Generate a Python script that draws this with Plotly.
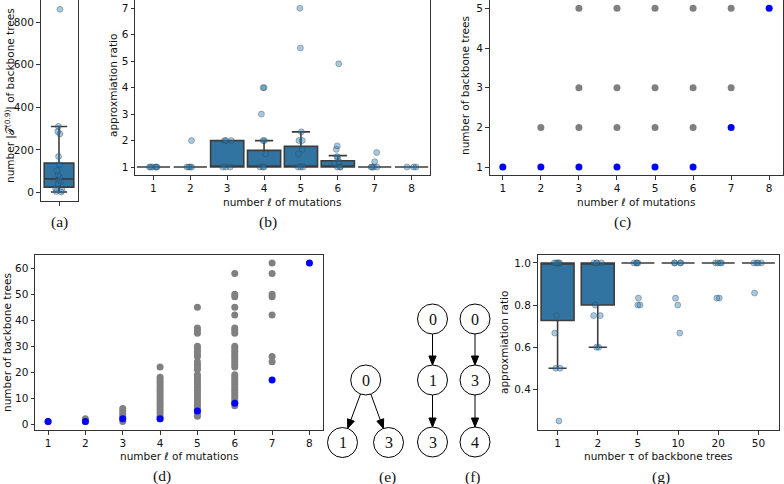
import plotly.graph_objects as go

W, H = 784, 484

# ---------------- data ----------------
# (a) number of backbone trees |T^(0.9)|
a_box = dict(q1=25, med=64, q3=138, lo=2, hi=310)
a_points = [860, 310, 286, 275, 169, 130, 103, 83, 72, 60, 52, 41, 20, 10, 5, 2]

# (b) approximation ratio vs number of mutations
mutations = [1, 2, 3, 4, 5, 6, 7, 8]
b_q1 = [1, 1, 1, 1, 1, 1, 1, 1]
b_med = [1, 1, 1, 1, 1, 1, 1, 1]
b_q3 = [1, 1, 2, 1.63, 1.78, 1.24, 1, 1]
b_lo = [1, 1, 1, 1, 1, 1, 1, 1]
b_hi = [1, 1, 2, 2, 2.33, 1.43, 1, 1]
b_points = {
    1: [1, 1, 1, 1, 1, 1],
    2: [1, 1, 1, 1, 2],
    3: [1, 1, 1, 2, 2, 2],
    4: [1, 1, 1, 1.5, 2, 2, 3, 4, 4],
    5: [1, 1, 1, 1.5, 1.67, 2, 2, 2.33, 5.5, 7],
    6: [1, 1, 1, 1.14, 1.2, 1.33, 1.4, 1.67, 1.8, 4.9],
    7: [1, 1, 1, 1, 1.2, 1.55],
    8: [1, 1, 1],
}

# (c) number of backbone trees (small instances)
c_gray_x = [2, 3, 3, 3, 4, 4, 4, 5, 5, 5, 6, 6, 6, 7, 7]
c_gray_y = [2, 2, 3, 5, 2, 3, 5, 2, 3, 5, 2, 3, 5, 3, 5]
c_blue_x = [1, 2, 3, 4, 5, 6, 7, 8]
c_blue_y = [1, 1, 1, 1, 1, 1, 2, 5]

# (d) number of backbone trees (all instances)
d_gray = {
    1: [1],
    2: [1, 2],
    3: [1, 2, 3, 4, 5, 6],
    4: [2, 3, 4, 5, 6, 7, 8, 9, 10, 11, 12, 13, 14, 15, 16, 17, 18, 22],
    5: [3, 4, 5, 6, 7, 8, 9, 10, 11, 12, 13, 14, 15, 16, 17, 18, 19,
        21, 22, 23, 24, 26, 27, 28, 29, 30, 35, 36, 37, 45],
    6: [7, 8, 9, 10, 11, 12, 13, 14, 15, 16, 17, 18, 19, 22, 23, 24, 25,
        26, 27, 28, 29, 30, 35, 36, 37, 42, 45, 49, 50, 58],
    7: [24, 26, 42, 49, 50, 58, 62],
}
d_blue_x = [1, 2, 3, 4, 5, 6, 7, 8]
d_blue_y = [1, 1, 2, 2, 5, 8, 17, 62]

# (g) approximation ratio vs number of backbone trees
tau_labels = ["1", "2", "5", "10", "20", "50"]
g_q1 = [0.727, 0.8, 1, 1, 1, 1]
g_med = [1, 1, 1, 1, 1, 1]
g_q3 = [1, 1, 1, 1, 1, 1]
g_lo = [0.5, 0.6, 1, 1, 1, 1]
g_hi = [1, 1, 1, 1, 1, 1]
g_points = [
    [1, 1, 1, 1, 1, 0.75, 0.667, 0.5, 0.5, 0.25],
    [1, 1, 1, 1, 0.8, 0.75, 0.75, 0.6, 0.6],
    [1, 1, 1, 1, 0.833, 0.8, 0.8],
    [1, 1, 1, 1, 0.833, 0.8, 0.667],
    [1, 1, 1, 1, 0.833, 0.833],
    [1, 1, 1, 1, 0.857],
]

# trees (e), (f)
tree_e_nodes = ["0", "1", "3"]
tree_f1_nodes = ["0", "1", "3"]
tree_f2_nodes = ["0", "3", "4"]

# ---------------- styles ----------------
BOX_FILL = "#3274a1"
BOX_LINE = "#3d3d3d"
PT_COLOR = "rgba(31,119,180,0.40)"
PT_EDGE = "rgba(60,60,60,0.35)"
GRAY = "#808080"
BLUE = "#0000ff"
SANS = "DejaVu Sans"
SERIF = "Liberation Serif"
FS = 10.5


def X(px):
    return px / W


def Y(py):
    return 1 - py / H


fig = go.Figure()


def box_trace(xs, q1, med, q3, lo, hi, width, xa, ya):
    return go.Box(
        x=xs, q1=q1, median=med, q3=q3, lowerfence=lo, upperfence=hi,
        boxpoints=False, width=width, whiskerwidth=0.55,
        fillcolor=BOX_FILL, line=dict(color=BOX_LINE, width=1.6),
        xaxis=xa, yaxis=ya, showlegend=False, hoverinfo="skip",
    )


def strip_trace(xs, ys, width, xa, ya):
    return go.Box(
        x=xs, y=ys, boxpoints="all", jitter=0.28, pointpos=0, width=width,
        fillcolor="rgba(0,0,0,0)", line=dict(width=0, color="rgba(0,0,0,0)"),
        marker=dict(color=PT_COLOR, size=6, line=dict(width=1, color=PT_EDGE)),
        xaxis=xa, yaxis=ya, showlegend=False, hoverinfo="skip",
    )


# (a)
fig.add_trace(box_trace([0], [a_box["q1"]], [a_box["med"]], [a_box["q3"]],
                        [a_box["lo"]], [a_box["hi"]], 0.8, "x", "y"))
fig.add_trace(strip_trace([0] * len(a_points), a_points, 0.8, "x", "y"))

# (b)
fig.add_trace(box_trace(mutations, b_q1, b_med, b_q3, b_lo, b_hi, 0.9, "x2", "y2"))
bx, by = [], []
for m in mutations:
    for v in b_points[m]:
        bx.append(m)
        by.append(v)
fig.add_trace(strip_trace(bx, by, 0.9, "x2", "y2"))

# (c)
fig.add_trace(go.Scatter(x=c_gray_x, y=c_gray_y, mode="markers",
                         marker=dict(color=GRAY, size=7), xaxis="x3", yaxis="y3",
                         showlegend=False))
fig.add_trace(go.Scatter(x=c_blue_x, y=c_blue_y, mode="markers",
                         marker=dict(color=BLUE, size=7), xaxis="x3", yaxis="y3",
                         showlegend=False))

# (d)
dx, dy = [], []
for m, vals in d_gray.items():
    for v in vals:
        dx.append(m)
        dy.append(v)
fig.add_trace(go.Scatter(x=dx, y=dy, mode="markers",
                         marker=dict(color=GRAY, size=7), xaxis="x4", yaxis="y4",
                         showlegend=False))
fig.add_trace(go.Scatter(x=d_blue_x, y=d_blue_y, mode="markers",
                         marker=dict(color=BLUE, size=7), xaxis="x4", yaxis="y4",
                         showlegend=False))

# (g)
gidx = list(range(len(tau_labels)))
fig.add_trace(box_trace(gidx, g_q1, g_med, g_q3, g_lo, g_hi, 0.82, "x5", "y5"))
gx, gy = [], []
for i, vals in enumerate(g_points):
    for v in vals:
        gx.append(i)
        gy.append(v)
fig.add_trace(strip_trace(gx, gy, 0.82, "x5", "y5"))

# ---------------- axes ----------------
axis_common = dict(
    showline=True, linecolor="#333", linewidth=1, mirror=True,
    ticks="outside", ticklen=3.5, tickwidth=1, tickcolor="#333",
    showgrid=False, zeroline=False,
    tickfont=dict(family=SANS, size=FS, color="#111"),
)

fig.update_layout(
    width=W, height=H, margin=dict(l=0, r=0, t=0, b=0),
    paper_bgcolor="white", plot_bgcolor="white", boxmode="overlay",
    showlegend=False,
    xaxis=dict(domain=[X(40.5), X(77.5)], range=[-0.5, 0.5], tickvals=[0],
               showticklabels=False, anchor="y", **axis_common),
    yaxis=dict(domain=[Y(201), 1], range=[-40, 904], tickvals=[0, 200, 400, 600, 800],
               anchor="x", **axis_common),
    xaxis2=dict(domain=[X(135), X(430)], range=[0.5, 8.5], tickvals=mutations,
                anchor="y2", **axis_common),
    yaxis2=dict(domain=[Y(175), 1], range=[0.7, 7.31], tickvals=[1, 2, 3, 4, 5, 6, 7],
                anchor="x2", **axis_common),
    xaxis3=dict(domain=[X(489.5), X(782.5)], range=[0.65, 8.35], tickvals=mutations,
                anchor="y3", **axis_common),
    yaxis3=dict(domain=[Y(175), 1], range=[0.8, 5.21], tickvals=[1, 2, 3, 4, 5],
                anchor="x3", **axis_common),
    xaxis4=dict(domain=[X(35), X(322.5)], range=[0.65, 8.35], tickvals=mutations,
                anchor="y4", **axis_common),
    yaxis4=dict(domain=[Y(430), Y(255)], range=[-2.3, 65.1],
                tickvals=[0, 10, 20, 30, 40, 50, 60], anchor="x4", **axis_common),
    xaxis5=dict(domain=[X(537.5), X(778.5)], range=[-0.5, 5.5], tickvals=gidx,
                ticktext=tau_labels, anchor="y5", **axis_common),
    yaxis5=dict(domain=[Y(430), Y(254.5)], range=[0.207, 1.04],
                tickvals=[0.4, 0.6, 0.8, 1.0], ticktext=["0.4", "0.6", "0.8", "1.0"],
                anchor="x5", **axis_common),
)

ann = []
shapes = []


def text(px, py, s, size=FS, family=SANS, angle=0):
    ann.append(dict(x=X(px), y=Y(py), xref="paper", yref="paper", text=s,
                    showarrow=False, textangle=angle,
                    font=dict(family=family, size=size, color="#111"),
                    xanchor="center", yanchor="middle"))


# axis titles
text(10, 96, "number |𝒯<sup>(0.9)</sup>| of backbone trees", angle=-90)
text(113, 86, "approxmiation ratio", angle=-90)
text(282, 202, "number ℓ of mutations")
text(465, 86, "number of backbone trees", angle=-90)
text(636, 202, "number ℓ of mutations")
text(7, 343, "number of backbone trees", angle=-90)
text(179, 456, "number ℓ of mutations")
text(504, 343, "approxmiation ratio", angle=-90)
text(658, 456, "number τ of backbone trees")

# panel labels
for px, py, s in [(59, 222, "(a)"), (268, 222, "(b)"), (622, 222, "(c)"),
                  (162, 476, "(d)"), (387, 477, "(e)"), (473, 477, "(f)"),
                  (661, 477, "(g)")]:
    text(px, py, s, size=15.5, family=SERIF)

# trees
R = 15
HEAD_L, HEAD_W = 9, 3.6


def node(px, py, label):
    shapes.append(dict(type="circle", xref="paper", yref="paper",
                       x0=X(px - R), x1=X(px + R), y0=Y(py + R), y1=Y(py - R),
                       line=dict(color="black", width=1), fillcolor="white"))
    text(px, py, label, size=16, family=SERIF)


def edge(p, c):
    dxp, dyp = c[0] - p[0], c[1] - p[1]
    L = (dxp ** 2 + dyp ** 2) ** 0.5
    ux, uy = dxp / L, dyp / L
    sx, sy = p[0] + ux * R, p[1] + uy * R
    ex, ey = c[0] - ux * R, c[1] - uy * R
    bx_, by_ = ex - ux * HEAD_L, ey - uy * HEAD_L
    shapes.append(dict(type="line", xref="paper", yref="paper",
                       x0=X(sx), y0=Y(sy), x1=X(bx_), y1=Y(by_),
                       line=dict(color="black", width=1)))
    nx, ny = -uy, ux
    pts = [(ex, ey), (bx_ + nx * HEAD_W, by_ + ny * HEAD_W),
           (bx_ - nx * HEAD_W, by_ - ny * HEAD_W)]
    path = "M " + " L ".join(f"{X(a):.5f},{Y(b):.5f}" for a, b in pts) + " Z"
    shapes.append(dict(type="path", xref="paper", yref="paper", path=path,
                       fillcolor="black", line=dict(color="black", width=1)))


def tree(positions, labels, edges):
    for (a, b) in edges:
        edge(positions[a], positions[b])
    for pos, lab in zip(positions, labels):
        node(pos[0], pos[1], lab)


tree([(365.7, 380), (342.5, 442.5), (388.5, 442.5)], tree_e_nodes, [(0, 1), (0, 2)])
tree([(432.5, 319), (432.5, 380), (432.5, 442)], tree_f1_nodes, [(0, 1), (1, 2)])
tree([(475, 319), (475, 380), (475, 442)], tree_f2_nodes, [(0, 1), (1, 2)])

fig.update_layout(annotations=ann, shapes=shapes)
fig.write_html("out.html")
